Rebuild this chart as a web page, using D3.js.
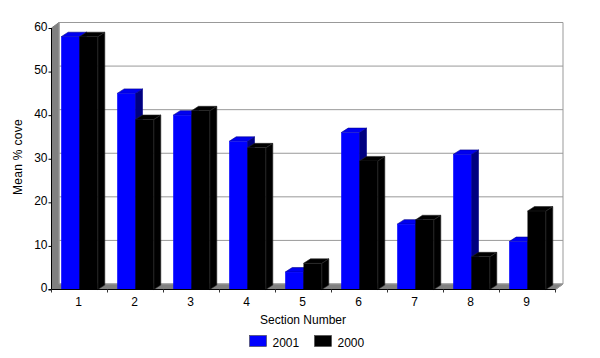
<!DOCTYPE html>
<html><head><meta charset="utf-8">
<script src="https://cdn.jsdelivr.net/npm/d3@7"></script>
<style>html,body{margin:0;padding:0;background:#fff}svg{display:block}
text{font-family:"Liberation Sans",Arial,sans-serif;font-size:12px;fill:#000}</style>
</head><body><svg id="c" width="600" height="358"></svg>
<script>
const categories=["1","2","3","4","5","6","7","8","9"];
const seriesNames=["2001","2000"];
const values2001=[58,45,40,34,4,36,15,31,11];
const values2000=[58,39,41,32.5,6,29.5,16,7.5,18];
const yTicks=[0,10,20,30,40,50,60];
const xTitle="Section Number", yTitle="Mean % cove";
const colors=[{front:"#0000ff",top:"#0000f0",side:"#000080",edge:"#00008a"},
              {front:"#000000",top:"#000000",side:"#000000",edge:"#262626"}];
const svg=d3.select("#c");
const x=d3.scaleBand().domain(categories).range([51.5,555.5]);
const y=d3.scaleLinear().domain([0,60]).range([289.5,28]);
const dx=7.5,dy=-5.5,barW=18.3,bdx=7,bdy=-4.5;
const x0=x.range()[0],x1=x.range()[1];
const poly=p=>p.map(d=>d.join(",")).join(" ");
// walls
svg.append("polygon").attr("fill","#808080").attr("stroke","#808080")
 .attr("points",poly([[x0,y(0)],[x0+dx,y(0)+dy],[x0+dx,y(60)+dy],[x0,y(60)]]));
svg.append("polygon").attr("fill","#808080").attr("stroke","#808080")
 .attr("points",poly([[x0,y(0)],[x0+dx,y(0)+dy],[x1+dx,y(0)+dy],[x1,y(0)]]));
// gridlines on back wall
svg.append("g").selectAll("line").data(yTicks).join("line")
 .attr("x1",x0+dx).attr("x2",x1+dx).attr("y1",d=>y(d)+dy).attr("y2",d=>y(d)+dy)
 .attr("stroke","#999999").attr("stroke-width",1);
svg.append("line").attr("x1",x0+dx).attr("x2",x0+dx).attr("y1",y(0)+dy).attr("y2",y(60)+dy).attr("stroke","#999");
svg.append("line").attr("x1",x1+dx).attr("x2",x1+dx).attr("y1",y(0)+dy).attr("y2",y(60)+dy).attr("stroke","#999");
svg.append("line").attr("x1",x1).attr("x2",x1+dx).attr("y1",y(0)).attr("y2",y(0)+dy).attr("stroke","#999");
// bars
const inner=d3.scaleBand().domain([0,1]).range([-barW,barW]);
categories.forEach((c,i)=>{
 [values2001[i],values2000[i]].forEach((v,s)=>{
  const col=colors[s];
  const l=x(c)+x.bandwidth()/2+inner(s), r=l+barW, t=y(v), b=y(0);
  const g=svg.append("g");
  g.append("polygon").attr("fill",col.side).attr("stroke",col.edge).attr("stroke-width",.6)
   .attr("points",poly([[r,b],[r+bdx,b+bdy],[r+bdx,t+bdy],[r,t]]));
  g.append("polygon").attr("fill",col.top).attr("stroke",col.edge).attr("stroke-width",.6)
   .attr("points",poly([[l,t],[l+bdx,t+bdy],[r+bdx,t+bdy],[r,t]]));
  g.append("rect").attr("x",l).attr("y",t).attr("width",barW).attr("height",b-t)
   .attr("fill",col.front);
  g.append("line").attr("x1",r).attr("x2",r).attr("y1",t).attr("y2",b).attr("stroke",col.edge).attr("stroke-width",.6);
 });
});
// axes
const yAxis=d3.axisLeft(y).tickValues(yTicks).tickSize(3).tickPadding(1);
const gy=svg.append("g").attr("transform",`translate(${x0},0)`).call(yAxis);
gy.select(".domain").attr("stroke","#000").attr("d",`M0,${y(60)}V${y(0)}`);
gy.selectAll("text").style("font-size","12px").attr("dy","0.2em");
const xEdges=d3.range(categories.length+1).map(i=>x0+i*x.step());
svg.append("line").attr("x1",x0-3).attr("x2",x1).attr("y1",y(0)).attr("y2",y(0)).attr("stroke","#000");
svg.append("g").selectAll("line").data(xEdges).join("line")
 .attr("x1",d=>d).attr("x2",d=>d).attr("y1",y(0)).attr("y2",y(0)+3).attr("stroke","#333");
svg.append("g").selectAll("text").data(categories).join("text")
 .attr("x",d=>x(d)+x.bandwidth()/2-1).attr("y",306).attr("text-anchor","middle").text(d=>d);
svg.append("text").attr("x",303).attr("y",324).attr("text-anchor","middle").text(xTitle);
svg.append("text").attr("transform","translate(22,157) rotate(-90)").attr("text-anchor","middle").attr("letter-spacing","0.3").text(yTitle);
// legend
const lx=d3.scaleOrdinal().domain(seriesNames).range([249.5,314.5]);
seriesNames.forEach((n,i)=>{
 svg.append("rect").attr("x",lx(n)).attr("y",335.5).attr("width",17).attr("height",11)
  .attr("fill",colors[i].front).attr("stroke","#444").attr("stroke-width",.6);
 svg.append("text").attr("x",lx(n)+23).attr("y",347).text(n);
});
</script></body></html>
